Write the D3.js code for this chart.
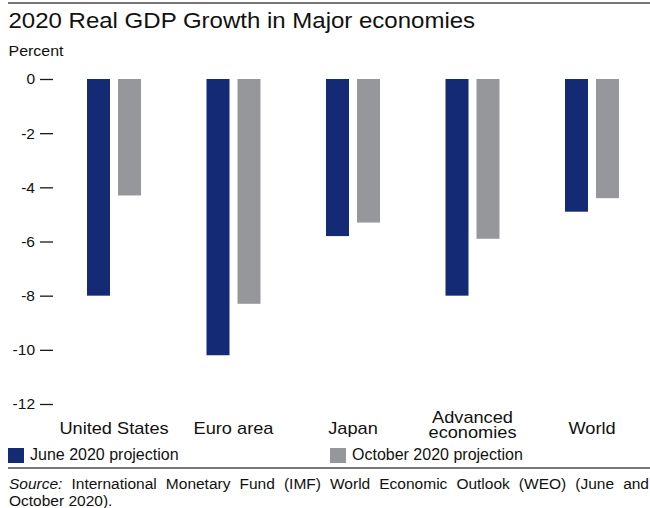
<!DOCTYPE html>
<html>
<head>
<meta charset="utf-8">
<script src="https://cdn.jsdelivr.net/npm/d3@7"></script>
<style>
  html, body { margin: 0; padding: 0; background: #fff; }
  svg { display: block; font-family: "Liberation Sans", Arial, sans-serif; }
</style>
</head>
<body>
<svg id="chart" width="650" height="508"></svg>
<script>
// Economies on the category axis (line breaks marked with \n)
const categories = ["United States", "Euro area", "Japan", "Advanced\neconomies", "World"];
// 2020 real GDP growth projections, percent
const june2020 = [-8.0, -10.2, -5.8, -8.0, -4.9];
const october2020 = [-4.3, -8.3, -5.3, -5.9, -4.4];
const seriesNames = ["June 2020 projection", "October 2020 projection"];
const yTicks = [0, -2, -4, -6, -8, -10, -12];

const colors = { june: "#152a74", october: "#96979a" };
const FONT = "'Liberation Sans', Arial, sans-serif";

const svg = d3.select("#chart");

// Widen glyphs horizontally by factor k (the house typeface runs a little wide)
function widen(sel, k) {
  sel.each(function() {
    const w = this.getComputedTextLength();
    d3.select(this).attr("textLength", w * k).attr("lengthAdjust", "spacingAndGlyphs");
  });
  return sel;
}

// Top rule
svg.append("line")
  .attr("x1", 8).attr("x2", 650).attr("y1", 3).attr("y2", 3)
  .attr("stroke", "#777").attr("stroke-width", 2);

widen(svg.append("text")
  .attr("x", 8.5).attr("y", 28)
  .attr("font-size", 22.5).attr("fill", "#111")
  .text("2020 Real GDP Growth in Major economies"), 1.067);

widen(svg.append("text")
  .attr("x", 8.5).attr("y", 56)
  .attr("font-size", 14.5).attr("fill", "#111")
  .text("Percent"), 1.1);

// Scales
const y = d3.scaleLinear().domain([0, -12]).range([79, 404]);
const x = d3.scalePoint().domain(categories).range([114, 592]);
const xSeries = d3.scaleBand().domain(["june", "october"]).range([-27, 27]).paddingInner(0.258);

// Y axis: short tick marks to the right of each label
const yAxis = d3.axisLeft(y)
  .tickValues(yTicks)
  .tickSizeInner(13)
  .tickSizeOuter(0)
  .tickPadding(5)
  .tickFormat(d => String(d));

const gy = svg.append("g").attr("transform", "translate(53,0)").call(yAxis);
gy.select(".domain").remove();
gy.selectAll(".tick line").attr("stroke", "#1a1a1a").attr("stroke-width", 1.3);
gy.selectAll("text")
  .attr("font-size", 15.5)
  .attr("fill", "#111")
  .attr("font-family", FONT);

// Bars
const rows = categories.map((c, i) => ({ cat: c, june: june2020[i], october: october2020[i] }));
const groups = svg.append("g").selectAll("g")
  .data(rows)
  .join("g")
  .attr("transform", d => `translate(${x(d.cat)},0)`);

groups.selectAll("rect")
  .data(d => ["june", "october"].map(k => ({ key: k, value: d[k] })))
  .join("rect")
  .attr("x", d => xSeries(d.key))
  .attr("width", xSeries.bandwidth())
  .attr("y", y(0))
  .attr("height", d => y(d.value) - y(0))
  .attr("fill", d => colors[d.key]);

// Category labels (one text element per line)
const catGroups = svg.append("g").selectAll("g")
  .data(categories)
  .join("g")
  .attr("transform", d => `translate(${x(d)},0)`);

const catLines = catGroups.selectAll("text")
  .data(d => {
    const lines = d.split("\n");
    const base = lines.length === 1 ? 434 : 423;
    return lines.map((ln, i) => ({ text: ln, y: base + i * 15 }));
  })
  .join("text")
  .attr("x", 0)
  .attr("y", d => d.y)
  .attr("text-anchor", "middle")
  .attr("font-size", 17)
  .attr("fill", "#111")
  .text(d => d.text);
widen(catLines, 1.07);

// Legend
const legend = [
  { name: seriesNames[0], color: colors.june, x: 8 },
  { name: seriesNames[1], color: colors.october, x: 330 }
];
const lg = svg.append("g").selectAll("g").data(legend).join("g")
  .attr("transform", d => `translate(${d.x},448)`);
lg.append("rect").attr("width", 16).attr("height", 15).attr("fill", d => d.color);
lg.append("text").attr("x", 22).attr("y", 11.5)
  .attr("font-size", 16).attr("fill", "#111")
  .text(d => d.name);

// Rule above the source note
svg.append("line")
  .attr("x1", 8).attr("x2", 650).attr("y1", 468).attr("y2", 468)
  .attr("stroke", "#777").attr("stroke-width", 2);

// Source note, first line justified to the full width
const sourceWords = ["International", "Monetary", "Fund", "(IMF)", "World", "Economic", "Outlook", "(WEO)", "(June", "and"];
const srcLeft = 9, srcRight = 649;
const srcGroup = svg.append("g").attr("font-size", 15.5).attr("fill", "#111");
const pieces = [{ text: "Source:", italic: true }].concat(sourceWords.map(w => ({ text: w, italic: false })));
const nodes = pieces.map(p => srcGroup.append("text")
  .attr("y", 489)
  .attr("font-style", p.italic ? "italic" : "normal")
  .text(p.text));
const widths = nodes.map(n => n.node().getComputedTextLength());
const totalW = d3.sum(widths);
const gap = (srcRight - srcLeft - totalW) / (pieces.length - 1);
let cx = srcLeft;
nodes.forEach((n, i) => { n.attr("x", cx); cx += widths[i] + gap; });

srcGroup.append("text").attr("x", srcLeft).attr("y", 506).text("October 2020).");
</script>
</body>
</html>
